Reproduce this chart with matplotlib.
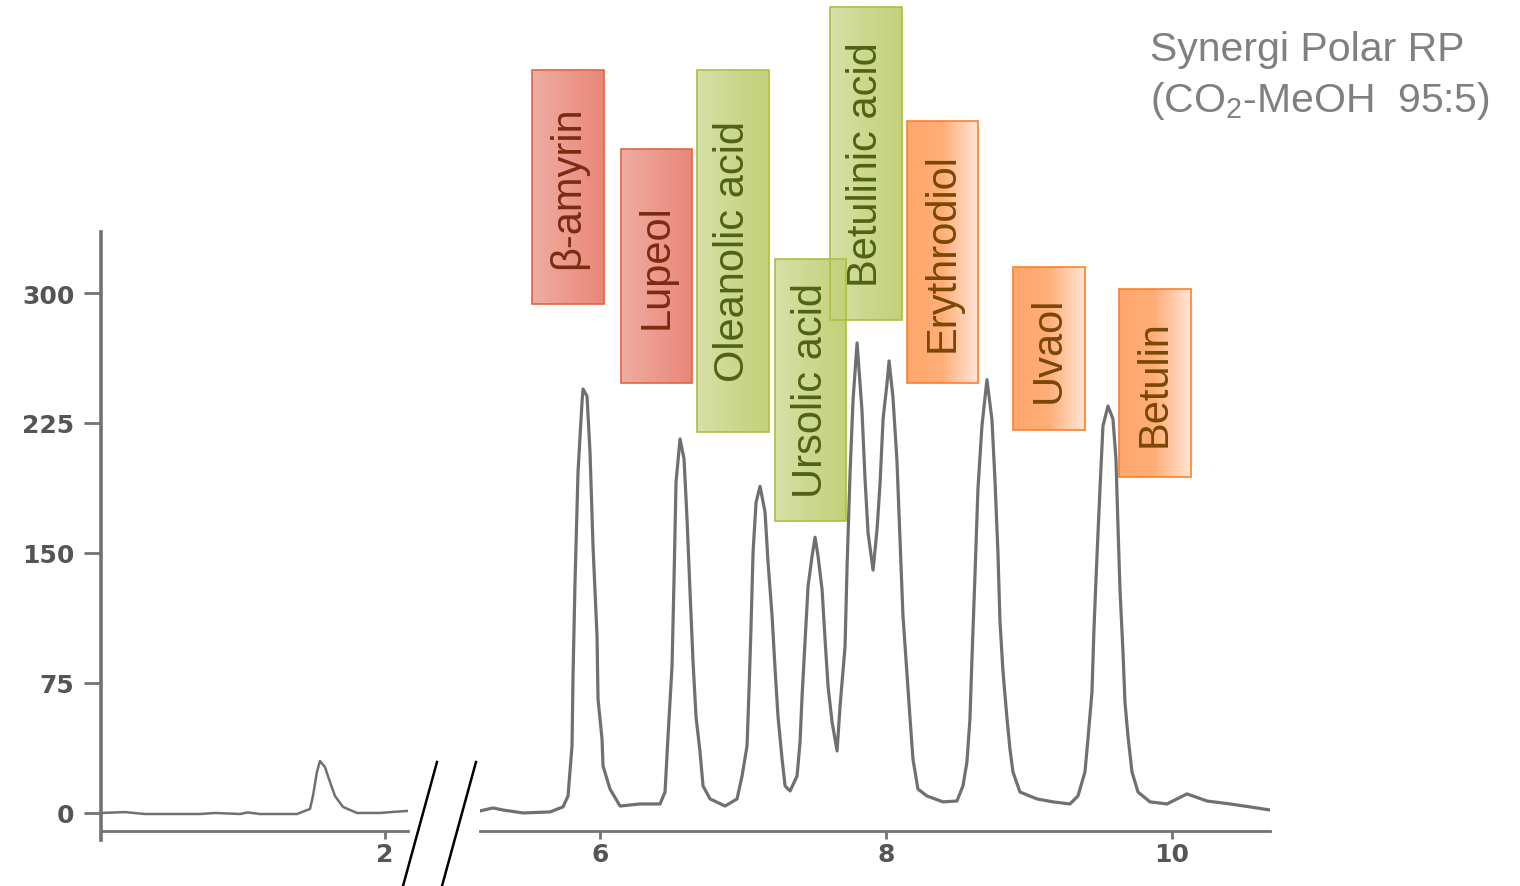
import numpy as np
import matplotlib
matplotlib.use("Agg")
import matplotlib.pyplot as plt
from matplotlib.colors import LinearSegmentedColormap
from matplotlib.patches import Rectangle

plt.rcParams['font.family'] = ['Liberation Sans', 'DejaVu Sans']
plt.rcParams['mathtext.default'] = 'regular'

# chromatogram trace (time in min, signal)
left_t = [0.013, 0.18, 0.32, 0.705, 0.81, 0.985, 1.04, 1.125, 1.384, 1.475, 1.496,
          1.524, 1.545, 1.58, 1.615, 1.65, 1.706, 1.804, 1.965, 2.056, 2.161]
left_y = [0.0, 0.5, -0.6, -0.6, 0.0, -0.6, 0.3, -0.6, -0.6, 2.3, 9.8,
          23.7, 30.0, 26.5, 17.9, 9.8, 3.5, 0.0, 0.0, 0.6, 1.2]

right_t = [5.160, 5.251, 5.321, 5.461, 5.650, 5.741, 5.776, 5.804, 5.811, 5.825, 5.846,
           5.874, 5.881, 5.909, 5.930, 5.951, 5.979, 5.986, 6.014, 6.021, 6.070, 6.140,
           6.280, 6.420, 6.455, 6.476, 6.504, 6.518, 6.532, 6.560, 6.588, 6.609, 6.630,
           6.651, 6.672, 6.700, 6.721, 6.770, 6.875, 6.959, 6.994, 7.029, 7.043, 7.057,
           7.071, 7.092, 7.120, 7.155, 7.176, 7.204, 7.225, 7.246, 7.274, 7.295, 7.330,
           7.379, 7.400, 7.414, 7.435, 7.456, 7.484, 7.505, 7.526, 7.554, 7.575, 7.596,
           7.624, 7.659, 7.680, 7.715, 7.729, 7.750, 7.771, 7.799, 7.833, 7.855, 7.876,
           7.911, 7.939, 7.960, 7.981, 8.009, 8.023, 8.050, 8.078, 8.099, 8.120, 8.148,
           8.169, 8.190, 8.225, 8.288, 8.400, 8.498, 8.540, 8.568, 8.589, 8.603, 8.624,
           8.645, 8.673, 8.708, 8.743, 8.764, 8.785, 8.799, 8.820, 8.848, 8.869, 8.890,
           8.939, 9.058, 9.170, 9.289, 9.345, 9.394, 9.415, 9.443, 9.457, 9.478, 9.499,
           9.520, 9.555, 9.590, 9.611, 9.625, 9.639, 9.660, 9.674, 9.695, 9.723, 9.765,
           9.849, 9.968, 10.108, 10.248, 10.409, 10.549, 10.689]
right_y = [1.2, 2.9, 1.7, 0.0, 0.6, 3.5, 9.8, 38.7, 79.0, 133.3, 196.7,
           237.1, 244.6, 240.5, 208.1, 153.8, 102.0, 65.7, 42.7, 27.1, 13.8, 4.0,
           5.2, 5.2, 12.1, 44.4, 84.8, 135.0, 191.0, 215.8, 204.2, 169.6, 127.5,
           87.2, 55.4, 35.2, 15.6, 8.1, 4.0, 8.1, 21.3, 38.7, 71.5, 107.8,
           150.4, 179.2, 188.5, 173.5, 144.6, 113.9, 83.1, 55.4, 31.2, 15.6, 12.7,
           21.3, 41.0, 67.3, 98.5, 130.8, 148.1, 159.1, 148.1, 129.0, 100.1, 73.0,
           52.5, 35.8, 61.7, 96.2, 142.3, 196.5, 238.5, 271.2, 232.7, 192.3, 161.5,
           140.1, 163.8, 190.4, 227.3, 248.1, 260.8, 240.0, 203.6, 158.1, 114.2, 80.2,
           55.4, 31.2, 13.8, 9.8, 6.4, 6.9, 15.6, 29.4, 54.2, 88.8, 136.7,
           186.9, 223.3, 250.0, 226.9, 192.3, 150.2, 110.8, 81.9, 54.8, 36.9, 23.7,
           12.1, 8.1, 6.4, 5.2, 9.8, 23.7, 42.7, 69.8, 106.1, 148.1, 186.9,
           223.3, 234.8, 227.3, 204.2, 165.5, 129.2, 92.9, 63.9, 44.4, 23.7, 12.1,
           6.4, 5.2, 11.0, 6.9, 5.2, 3.5, 1.7]

y_ticks = [0, 75, 150, 225, 300]
left_xticks = [2]
right_xticks = [6, 8, 10]

compounds = ["\u03b2-amyrin", "Lupeol", "Oleanolic acid", "Ursolic acid",
             "Betulinic acid", "Erythrodiol", "Uvaol", "Betulin"]
groups = ["red", "red", "green", "green", "green", "orange", "orange", "orange"]
# label boxes in pixels: x0, x1, y0, y1
boxes = {
    "\u03b2-amyrin": (532, 604, 71, 305),
    "Lupeol": (621, 692, 150, 384),
    "Oleanolic acid": (697, 769, 71, 433),
    "Betulinic acid": (830, 902, 8, 321),
    "Ursolic acid": (775, 846, 260, 522),
    "Erythrodiol": (907, 978, 122, 384),
    "Uvaol": (1013, 1085, 268, 431),
    "Betulin": (1119, 1191, 290, 478),
}
# Ursolic acid box sits on top of the Betulinic acid one
draw_order = ["\u03b2-amyrin", "Lupeol", "Oleanolic acid", "Betulinic acid",
              "Ursolic acid", "Erythrodiol", "Uvaol", "Betulin"]

styles = {
    "red": dict(grad=["#EFADA3", "#EC9A8D", "#E8877A"], edge="#E4643F", text="#7B2B12"),
    "green": dict(grad=["#D7E1A8", "#CCD88F", "#C3D17B"], edge="#AEC03C", text="#506213"),
    "orange": dict(grad=["#FFA76C", "#FFAE78", "#FFE6D6"], edge="#FF7F2A", text="#7A4704"),
}

W, H = 1520, 887
fig = plt.figure(figsize=(15.2, 8.87), dpi=100)


def frame(xl, xr, yt, yb):
    return [xl / W, 1 - yb / H, (xr - xl) / W, (yb - yt) / H]


ylim = (-15.6, 335.2)
axis_y = -10.4
trace_col = "#707070"
spine_col = "#727272"
tick_font = dict(family="DejaVu Sans", weight="bold", size=18, color="#555555")

ax1 = fig.add_axes(frame(101, 408, 233, 841))
ax2 = fig.add_axes(frame(480, 1270, 233, 841))

ax1.plot(left_t, left_y, color=trace_col, lw=1.8)
ax2.plot(right_t, right_y, color=trace_col, lw=2.3)

ax1.set_xlim(0.013, 2.161)
ax2.set_xlim(5.160, 10.689)
for ax in (ax1, ax2):
    ax.set_ylim(*ylim)
    ax.patch.set_visible(False)
    ax.spines['top'].set_visible(False)
    ax.spines['right'].set_visible(False)
    ax.spines['bottom'].set_position(('data', axis_y))
    ax.spines['bottom'].set_color(spine_col)
    ax.spines['bottom'].set_linewidth(2.0)
    ax.tick_params(axis='x', direction='out', length=6, width=2, color=spine_col, pad=2)

ax1.spines['left'].set_color(spine_col)
ax1.spines['left'].set_linewidth(2.6)
ax1.set_yticks(y_ticks)
ax1.set_yticklabels([str(v) for v in y_ticks], **tick_font)
ax1.tick_params(axis='y', direction='out', length=12, width=2, color=spine_col, pad=7)
ax1.set_xticks(left_xticks)
ax1.set_xticklabels([str(v) for v in left_xticks], **tick_font)

ax2.spines['left'].set_visible(False)
ax2.set_yticks([])
ax2.set_xticks(right_xticks)
ax2.set_xticklabels([str(v) for v in right_xticks], **tick_font)

# overlay in pixel coordinates for boxes, break marks and title
ov = fig.add_axes([0, 0, 1, 1])
ov.axis('off')

ov.plot([437, 403], [763, 887], color="black", lw=1.8)
ov.plot([476, 442], [763, 887], color="black", lw=1.8)

grad = np.linspace(0, 1, 128)[None, :]
for name in draw_order:
    st = styles[groups[compounds.index(name)]]
    x0, x1, y0, y1 = boxes[name]
    cmap = LinearSegmentedColormap.from_list(name, st["grad"])
    ov.imshow(grad, cmap=cmap, extent=(x0, x1, y1, y0), aspect='auto',
              interpolation='bilinear', zorder=2)
    ov.add_patch(Rectangle((x0, y0), x1 - x0, y1 - y0, fill=False,
                           edgecolor=st["edge"], lw=1.2, zorder=3))
    ov.text((x0 + x1) / 2, (y0 + y1) / 2, name, rotation=90, ha='center',
            va='center', fontsize=30, color=st["text"], zorder=4)
ov.set_xlim(0, W)
ov.set_ylim(H, 0)

ov.text(1150, 61, "Synergi Polar RP", fontsize=29.5, color="#808080",
        ha='left', va='baseline')
ov.text(1150, 112, "(CO$_2$-MeOH  95:5)", fontsize=29.5, color="#808080",
        ha='left', va='baseline')

fig.savefig("out.png", dpi=100)
